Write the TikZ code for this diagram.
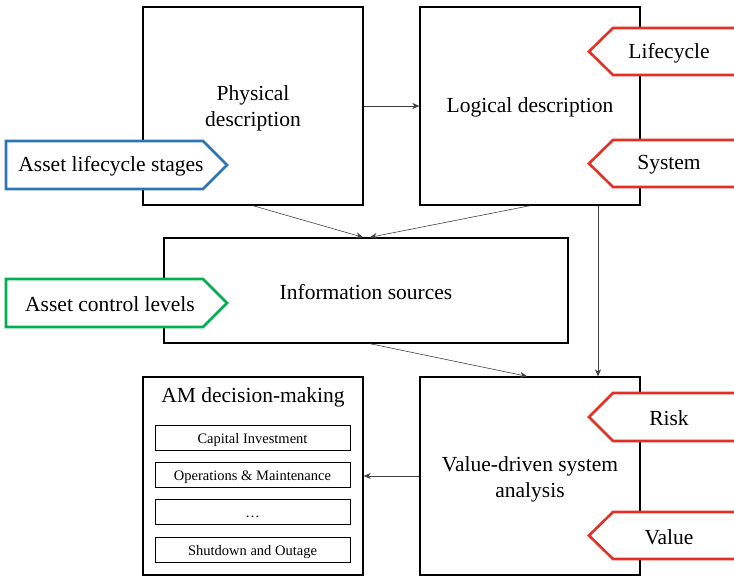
\documentclass[tikz,border=0pt]{standalone}
\usepackage{fontspec}
\setmainfont{Liberation Serif}
\usetikzlibrary{arrows.meta}
\definecolor{tagblue}{RGB}{46,117,182}
\definecolor{taggreen}{RGB}{0,176,80}
\definecolor{tagred}{RGB}{226,48,38}
\tikzset{
  bigbox/.style={draw=black,line width=1.4pt,fill=white,inner sep=0pt,align=center,
    font=\fontsize{21.5}{27}\selectfont},
  smallbox/.style={draw=black,line width=0.9pt,minimum width=195pt,minimum height=25pt,inner sep=0pt,
    text height=11pt,text depth=0pt,font=\fontsize{14.5}{16}\selectfont},
  conn/.style={draw=black!75,line width=0.6pt,-{Stealth[length=7pt,width=6pt]}},
  tagtext/.style={font=\fontsize{21.5}{26}\selectfont,inner sep=0pt},
  tagline/.style={line width=2.6pt,fill=white,line join=miter}
}
\begin{document}
\begin{tikzpicture}[x=1pt,y=-1pt]
\useasboundingbox (0,0) rectangle (734,577);
\begin{scope}
\clip (0,0) rectangle (734,577);
% main boxes
\node[bigbox,minimum width=220pt,minimum height=198pt] (phys) at (253,106) {};
\node[tagtext,align=center] (phystext) at (253,108.5) {Physical\\description};
\node[bigbox,minimum width=220pt,minimum height=198pt] (logic) at (530,106) {};
\node[tagtext] (logictext) at (530,107) {Logical description};
\node[bigbox,minimum width=404pt,minimum height=105pt] (info) at (366,290.5) {};
\node[tagtext] (infotext) at (366,292) {Information sources};
\node[bigbox,minimum width=220pt,minimum height=198pt] (value) at (530,476) {};
\node[tagtext,align=center] (valuetext) at (530,479) {Value-driven system\\analysis};
\node[bigbox,minimum width=220pt,minimum height=198pt] (am) at (253,476) {};
\node[tagtext] (amtitle) at (253,397) {AM decision-making};
\node[smallbox] (cap) at (252.5,437.5) {Capital Investment};
\node[smallbox] (ops) at (252.5,474.5) {Operations \& Maintenance};
\node[smallbox] (dots) at (252.5,511.5) {…};
\node[smallbox] (shut) at (252.5,550) {Shutdown and Outage};
% connectors
\draw[conn] (phys.east) -- (logic.west);
\draw[conn] (phys.south) -- ([xshift=-3pt]info.north);
\draw[conn] (logic.south) -- ([xshift=4pt]info.north);
\draw[conn] ([xshift=68pt]logic.south) -- ([xshift=68pt]value.north);
\draw[conn] ([xshift=4pt]info.south) -- ([xshift=-3pt]value.north);
\draw[conn] (value.west) -- (am.east);
% left tags
\draw[tagline,draw=tagblue] (6,141) -- (203,141) -- (227,165) -- (203,189) -- (6,189) -- cycle;
\node[tagtext] (stages) at (111,166.5) {Asset lifecycle stages};
\draw[tagline,draw=taggreen] (6,279) -- (203,279) -- (227,303) -- (203,327) -- (6,327) -- cycle;
\node[tagtext] (levels) at (110,304.5) {Asset control levels};
% right tags
\draw[tagline,draw=tagred] (745,28) -- (613,28) -- (589,51.5) -- (613,75) -- (745,75);
\node[tagtext] (lifecycle) at (669,53) {Lifecycle};
\draw[tagline,draw=tagred] (745,140) -- (613,140) -- (589,163.5) -- (613,187) -- (745,187);
\node[tagtext] (system) at (669,165) {System};
\draw[tagline,draw=tagred] (745,393) -- (613,393) -- (589,417) -- (613,441) -- (745,441);
\node[tagtext] (risk) at (669,418.5) {Risk};
\draw[tagline,draw=tagred] (745,512) -- (613,512) -- (589,535.5) -- (613,559) -- (745,559);
\node[tagtext] (val) at (669,537) {Value};
\end{scope}
\end{tikzpicture}
\end{document}
